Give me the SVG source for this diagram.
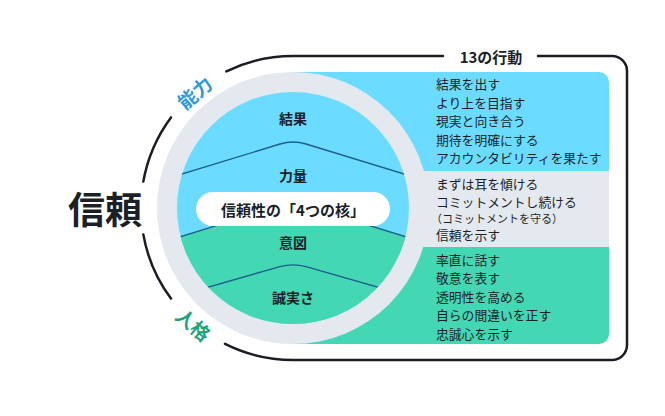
<svg xmlns="http://www.w3.org/2000/svg" width="665" height="416" viewBox="0 0 665 416">
<style>
text{font-family:"Noto Sans CJK JP","Noto Sans CJK SC",sans-serif;fill:#1b1f27;dominant-baseline:central}
.lbl{font-size:14px;font-weight:700;text-anchor:middle}
.li{font-size:12.8px}
.frame{fill:none;stroke:#1b1d23;stroke-width:2.5;stroke-linecap:round}
.div{fill:none;stroke:#1d5e8c;stroke-width:1.4}
</style>
<defs>
<clipPath id="inner"><circle cx="293" cy="208" r="116"/></clipPath>
</defs>
<rect width="665" height="416" fill="#ffffff"/>
<g id="frame">
<path class="frame" d="M226.4 71.4 A152 152 0 0 1 293 56 H443 M538 56 H612 A15 15 0 0 1 627 71 V345 A15 15 0 0 1 612 360 H293 A152 152 0 0 1 225 343.9"/>
<path class="frame" d="M171 298.6 A152 152 0 0 1 143.3 234.4"/>
<path class="frame" d="M143.3 181.6 A152 152 0 0 1 171 117.4"/>
<text x="491" y="56" style="font-size:15px;font-weight:700;text-anchor:middle">13の行動</text>
</g>
<g id="boxes">
<path d="M293 72 H599 A10 10 0 0 1 609 82 V171 H293 Z" fill="#6bdcff"/>
<path d="M293 171 H609 V247 H293 Z" fill="#e3e9ef"/>
<path d="M293 247 H609 V334 A10 10 0 0 1 599 344 H293 Z" fill="#44d7b4"/>
</g>
<g id="circle">
<circle cx="293" cy="208" r="136" fill="#e3e9ef"/>
<g clip-path="url(#inner)">
<rect x="170" y="90" width="250" height="240" fill="#6bdcff"/>
<path d="M160 242.9 L293 202 L426 242.9 V330 H160 Z" fill="#44d7b4"/>
<path class="div" d="M160 180.8 L280 144 Q293 140 306 144 L426 180.8"/>
<path class="div" d="M160 242.9 L293 202 L426 242.9"/>
<path class="div" d="M160 300.8 L280 266.7 Q293 263 306 266.7 L426 300.8"/>
</g>
</g>
<g id="core-labels">
<text class="lbl" x="293" y="118">結果</text>
<text class="lbl" x="293" y="175">力量</text>
<text class="lbl" x="293" y="242">意図</text>
<text class="lbl" x="293" y="297">誠実さ</text>
</g>
<g id="pill">
<rect x="196" y="192" width="194" height="34" rx="17" fill="#ffffff"/>
<text x="293" y="209" style="font-size:15px;font-weight:700;text-anchor:middle">信頼性の「4つの核」</text>
</g>
<g id="trust">
<text x="105" y="208" style="font-size:37px;font-weight:700;text-anchor:middle">信頼</text>
</g>
<g id="ability">
<text x="194" y="92" transform="rotate(-40 194 92)" style="font-size:19px;font-weight:700;text-anchor:middle;fill:#2e9bd6">能力</text>
</g>
<g id="character">
<text x="194" y="324" transform="rotate(40 194 324)" style="font-size:19px;font-weight:700;text-anchor:middle;fill:#1fa37c">人格</text>
</g>
<g id="actions-ability">
<text class="li" x="436" y="83">結果を出す</text>
<text class="li" x="436" y="102">より上を目指す</text>
<text class="li" x="436" y="120">現実と向き合う</text>
<text class="li" x="436" y="139">期待を明確にする</text>
<text class="li" x="436" y="157">アカウンタビリティを果たす</text>
</g>
<g id="actions-mid">
<text class="li" x="436" y="183">まずは耳を傾ける</text>
<text class="li" x="436" y="201">コミットメントし続ける</text>
<text x="431" y="217.5" style="font-size:11px">（コミットメントを守る）</text>
<text class="li" x="436" y="234">信頼を示す</text>
</g>
<g id="actions-character">
<text class="li" x="436" y="259">率直に話す</text>
<text class="li" x="436" y="277">敬意を表す</text>
<text class="li" x="436" y="296">透明性を高める</text>
<text class="li" x="436" y="314">自らの間違いを正す</text>
<text class="li" x="436" y="333">忠誠心を示す</text>
</g>
</svg>
